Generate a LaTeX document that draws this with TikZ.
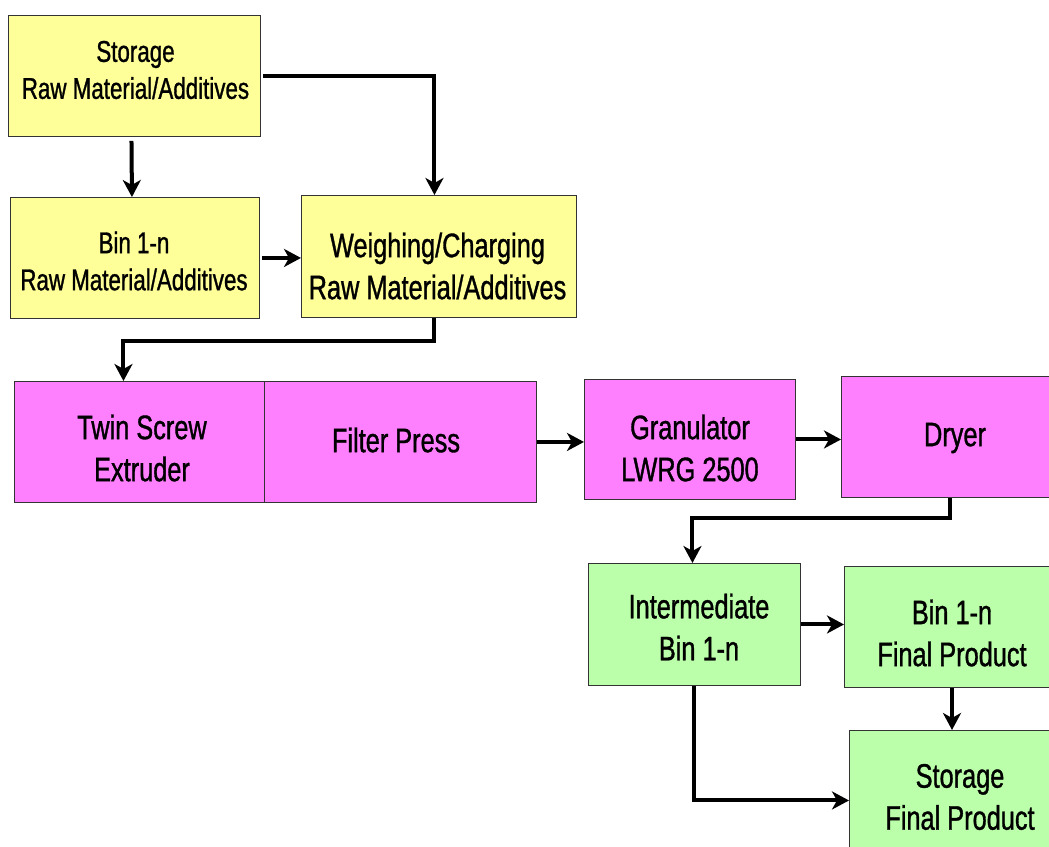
\documentclass[tikz,border=0pt]{standalone}
\usepackage{fontspec}
\setmainfont{Liberation Sans}[FakeStretch=0.745,FakeBold=1]
\usetikzlibrary{arrows.meta}
\definecolor{yel}{RGB}{255,255,153}
\definecolor{mag}{RGB}{255,128,255}
\definecolor{grn}{RGB}{187,255,170}
\begin{document}
\begin{tikzpicture}[x=1pt,y=-1pt,
  box/.style={draw=black!80, line width=0.9pt, inner sep=0pt, anchor=north west},
  ybox/.style={box, fill=yel},
  mbox/.style={box, fill=mag},
  gbox/.style={box, fill=grn},
  tsmall/.style={font=\fontsize{30}{37}\selectfont, align=center, inner sep=0pt},
  tbig/.style={font=\fontsize{34}{42}\selectfont, align=center, inner sep=0pt},
  arr/.style={line width=4pt, -{Stealth[length=17pt,width=18pt,inset=5pt]}}]
\path[use as bounding box] (0,0) rectangle (1049,846);
\clip (0,0) rectangle (1049,846);
% boxes
\node[ybox, minimum width=252, minimum height=121] (srm) at (8,15) {};
\node[ybox, minimum width=249, minimum height=121] (brm) at (10,197) {};
\node[ybox, minimum width=275, minimum height=122] (wgh) at (301,195) {};
\node[mbox, minimum width=250, minimum height=121] (tse) at (14,381) {};
\node[mbox, minimum width=272, minimum height=121] (fp) at (264,381) {};
\node[mbox, minimum width=211, minimum height=120] (gr) at (584,379) {};
\node[mbox, minimum width=220, minimum height=121] (dr) at (841,376) {};
\node[gbox, minimum width=212, minimum height=122] (ib) at (588,563) {};
\node[gbox, minimum width=216, minimum height=121] (bfp) at (844,566) {};
\node[gbox, minimum width=212, minimum height=140] (sfp) at (849,730) {};
% texts
\node[tsmall] (srmt) at (135.5,70) {Storage\\Raw Material/Additives};
\node[tsmall] (brmt) at (134,261) {Bin 1-n\\Raw Material/Additives};
\node[tbig] (wght) at (437.5,266) {Weighing/Charging\\Raw Material/Additives};
\node[tbig] (tset) at (142,448) {Twin Screw\\Extruder};
\node[tbig] (fpt) at (396,440) {Filter Press};
\node[tbig] (grt) at (690,448) {Granulator\\LWRG 2500};
\node[tbig] (drt) at (955,438) {Dryer};
\node[tbig] (ibt) at (699,627) {Intermediate\\Bin 1-n};
\node[tbig] (bfpt) at (952,633) {Bin 1-n\\Final Product};
\node[tbig] (sfpt) at (960,797) {Storage\\Final Product};
% connectors
\draw[arr, shorten <=4pt] ([xshift=-3pt]srm.south) -- ([xshift=-3pt]brm.north);
\draw[arr, shorten <=2pt] (srm.east) -| ([xshift=-4.5pt]wgh.north);
\draw[arr, shorten <=2pt] (brm.east) -- (wgh.west |- brm.east);
\draw[arr] ([xshift=-4.5pt]wgh.south) -- ++(0,23) -| ([xshift=-16pt]tse.north);
\draw[arr] (fp.east) -- (gr.west |- fp.east);
\draw[arr] (gr.east) -- (dr.west |- gr.east);
\draw[arr] ([xshift=109pt]dr.south west) -- ++(0,20) -| ([xshift=-2pt]ib.north);
\draw[arr] (ib.east) -- (bfp.west |- ib.east);
\draw[arr] ([xshift=108pt]bfp.south west) -- ([xshift=103pt]sfp.north west);
\draw[arr] (ib.south) |- (sfp.west);
\end{tikzpicture}
\end{document}
